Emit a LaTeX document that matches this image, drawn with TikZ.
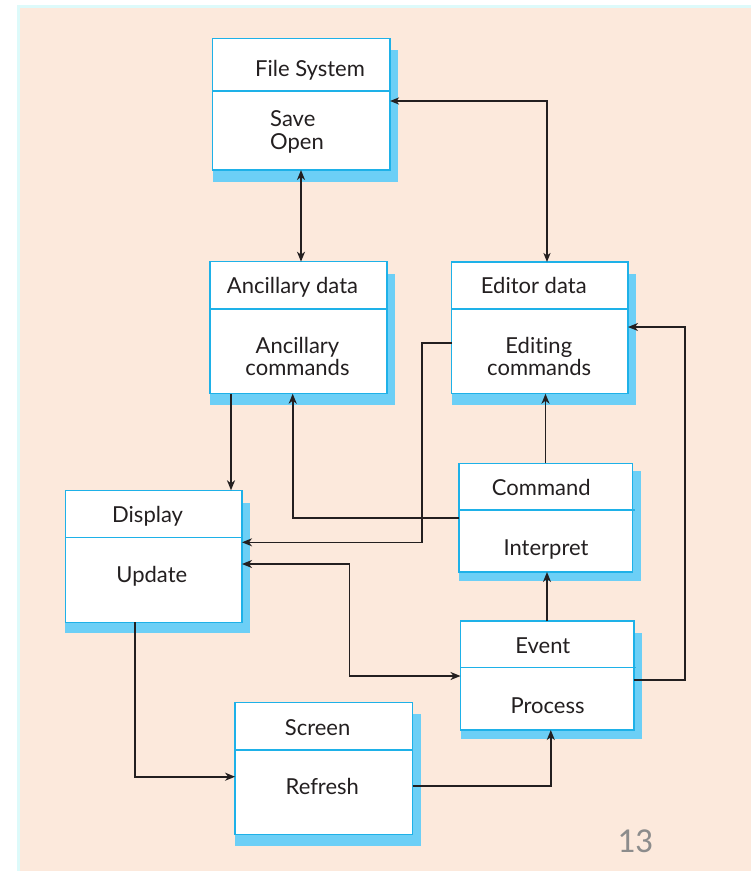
\documentclass[tikz,border=0pt]{standalone}
\usepackage{fontspec}
\setmainfont[Ligatures=NoCommon]{Lato}
\newfontfamily\numfont{Carlito}
\usetikzlibrary{arrows.meta}
\definecolor{peach}{HTML}{FCE9DC}
\definecolor{edgecyan}{HTML}{DDFAFA}
\definecolor{boxline}{HTML}{1EB1E8}
\definecolor{dropblue}{HTML}{6CCFF6}
\definecolor{ink}{HTML}{231F20}
\definecolor{pagenum}{HTML}{8C8C8C}

% class box: name, left, top, right, bottom, divider y, shadow top drop, shadow bottom drop, divider overshoot
\newcommand\classbox[9]{%
  \fill[dropblue] (#2,#3+#7) rectangle (#4+8,#5+#8);
  \node[draw=boxline, line width=1.5pt, fill=white, inner sep=0pt, outer sep=0pt,
        minimum width=#4-#2, minimum height=#5-#3, anchor=north west] (#1) at (#2,#3) {};
  \draw[boxline, line width=1.5pt] (#1.west |- 0,#6) -- ([xshift=#9pt]#1.east |- 0,#6);
}

\begin{document}
\begin{tikzpicture}[x=1pt,y=-1pt,
  conn/.style={draw=ink, line width=1.6pt},
  heavy/.style={draw=ink, line width=2.4pt},
  tip/.style={-{Stealth[length=10pt,width=8pt,inset=3pt]}},
  tips/.style={{Stealth[length=10pt,width=8pt,inset=3pt]}-{Stealth[length=10pt,width=8pt,inset=3pt]}},
  bigtips/.style={{Stealth[length=9pt,width=7pt,inset=2.5pt]}-{Stealth[length=9pt,width=7pt,inset=2.5pt]}},
  txt/.style={font=\fontsize{22}{26}\selectfont, text=ink, inner sep=0pt, anchor=base},
]
\useasboundingbox (0,0) rectangle (751,871);
% page background
\fill[white] (0,0) rectangle (751,871);
\fill[edgecyan] (17,5) rectangle (751,871);
\fill[peach] (20,8) rectangle (751,871);

% classes
\classbox{fs}{212.7}{38.3}{390}{170}{91}{12}{12}{0}
\classbox{anc}{210}{261.7}{387}{393.7}{309}{12}{11}{0}
\classbox{ed}{451.7}{262}{628}{393.7}{309}{12}{11}{0}
\classbox{disp}{65.3}{490.3}{242}{622.3}{537.3}{13}{11}{0}
\classbox{cmd}{459.2}{463.3}{632.5}{572}{510}{8}{8.5}{2}
\classbox{ev}{460.5}{621}{633.9}{730}{667.7}{12}{8.5}{2}
\classbox{scr}{235.1}{702.7}{412.7}{834.7}{750}{11}{11}{0}

% labels
\node[txt] (fsT) at (310,76.7) {File System};
\node[txt, anchor=base west] (fsB1) at (270,126.7) {Save};
\node[txt, anchor=base west] (fsB2) at (270,149) {Open};
\node[txt] (ancT) at (292.5,293.3) {Ancillary data};
\node[txt] (ancB1) at (297.5,353.3) {Ancillary};
\node[txt] (ancB2) at (297.5,375.7) {commands};
\node[txt] (edT) at (533.8,293.3) {Editor data};
\node[txt] (edB1) at (538.8,353.3) {Editing};
\node[txt] (edB2) at (539.2,375.7) {commands};
\node[txt] (dispT) at (147.6,522.7) {Display};
\node[txt] (dispB) at (151.8,582.7) {Update};
\node[txt] (cmdT) at (541.3,495) {Command};
\node[txt] (cmdB) at (546,555) {Interpret};
\node[txt] (evT) at (542.8,653.3) {Event};
\node[txt] (evB) at (547.6,713.3) {Process};
\node[txt] (scrT) at (317.6,735.7) {Screen};
\node[txt] (scrB) at (322.3,794.3) {Refresh};
\node[font=\numfont\fontsize{35}{40}\selectfont, text=pagenum, inner sep=0pt, anchor=base] (pg) at (635,852) {13};

% connectors
\draw[heavy, bigtips] (fs.east |- 0,101) -| (ed.north -| 547,0);
\draw[conn, tips] (fs.south -| 301,0) -- (anc.north -| 301,0);
\draw[conn, tip] (anc.south -| 231,0) -- (disp.north -| 231,0);
\draw[conn, tip] (cmd.west |- 0,517.7) -| (anc.south -| 292.7,0);
\draw[conn, tip] (ed.west |- 0,342.7) -| (421.9,542.3) -- (disp.east |- 0,542.3);
\draw[conn, tip] (cmd.north -| 545.5,0) -- (ed.south -| 545.5,0);
\draw[conn, tip] (ev.north -| 547,0) -- (cmd.south -| 547,0);
\draw[conn, tips] (disp.east |- 0,564) -| (349.3,676) -- (ev.west |- 0,676);
\draw[conn, tip] (ev.east |- 0,680) -| (684.8,327) -- (ed.east |- 0,327);
\draw[conn, tip] (disp.south -| 135.2,0) |- (scr.west |- 0,776.7);
\draw[conn, tip] (scr.east |- 0,786) -| (ev.south -| 550.8,0);
\end{tikzpicture}
\end{document}
